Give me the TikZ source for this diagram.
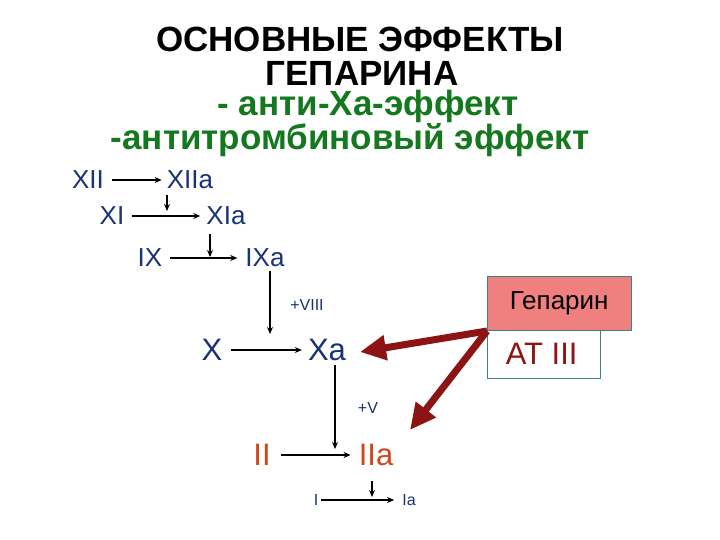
\documentclass[tikz,border=0pt]{standalone}
\usepackage{fontspec}
\setmainfont{Liberation Sans}
\usetikzlibrary{arrows.meta}
\definecolor{tgreen}{RGB}{20,120,30}
\definecolor{cblue}{RGB}{25,50,120}
\definecolor{corange}{RGB}{210,70,30}
\definecolor{dred}{RGB}{140,20,20}
\definecolor{salmon}{RGB}{240,128,128}
\definecolor{teal}{RGB}{60,130,130}
\tikzset{
  fz/.style={font=\fontsize{#1}{#1}\selectfont, inner sep=0pt},
  ttl/.style={font=\bfseries\fontsize{35}{35}\selectfont, inner sep=0pt},
  cas/.style={fz=26, text=cblue},
  casbig/.style={fz=31, text=cblue},
  small/.style={fz=16, text=cblue},
  ar/.style={-{Stealth[length=7pt,width=6pt]}, line width=1.3pt},
  big/.style={-{Triangle[length=26pt,width=24pt]}, line width=7pt, dred},
}
\begin{document}
\begin{tikzpicture}[x=1pt,y=-1pt]
\useasboundingbox (0,0) rectangle (720,540);
\node[ttl] (t1) at (360,39) {ОСНОВНЫЕ ЭФФЕКТЫ};
\node[ttl] (t2) at (362,73) {ГЕПАРИНА};
\node[ttl, text=tgreen] (t3) at (368,106) {- анти-Ха-эффект};
\node[ttl, text=tgreen] (t4) at (350,140) {-антитромбиновый эффект};

\node[cas] (xii) at (88,180) {XII};
\node[cas] (xiia) at (190,180) {XIIa};
\node[cas] (xi) at (112,216) {XI};
\node[cas] (xia) at (226,216) {XIa};
\node[cas] (ix) at (150,258) {IX};
\node[cas] (ixa) at (265,258) {IXa};
\node[small] (viii) at (307,305) {+VIII};
\node[casbig] (x) at (212,350) {X};
\node[casbig] (xa) at (327,350) {Xa};
\node[small] (v) at (368,408) {+V};
\node[casbig, text=corange] (ii) at (262,455) {II};
\node[casbig, text=corange] (iia) at (376,455) {IIa};
\node[small] (i) at (316,500) {I};
\node[small] (ia) at (409,500) {Ia};

\coordinate (a1) at (167,195); \coordinate (a1e) at (167,211);
\coordinate (a2) at (210,234); \coordinate (a2e) at (210,257);
\coordinate (a3) at (270,271); \coordinate (a3e) at (270,334);
\coordinate (a4) at (335,365); \coordinate (a4e) at (335,449);
\coordinate (a5) at (372,481); \coordinate (a5e) at (372,497);

\draw[ar] ([xshift=8pt]xii.east) -- ([xshift=-5pt]xiia.west);
\draw[ar] ([xshift=8pt]xi.east) -- ([xshift=-6pt]xia.west);
\draw[ar] ([xshift=8pt]ix.east) -- ([xshift=-8pt]ixa.west);
\draw[ar] ([xshift=8pt]x.east) -- ([xshift=-6pt]xa.west);
\draw[ar] ([xshift=10pt]ii.east) -- ([xshift=-8pt]iia.west);
\draw[ar] ([xshift=3pt]i.east) -- ([xshift=-8pt]ia.west);
\draw[ar] (a1) -- (a1e);
\draw[ar] (a2) -- (a2e);
\draw[ar] (a3) -- (a3e);
\draw[ar] (a4) -- (a4e);
\draw[ar] (a5) -- (a5e);

\node[draw=teal, fill=salmon, minimum width=144pt, minimum height=54pt, anchor=north west, inner sep=0pt] (hep) at (487,276) {};
\node[fz=26] at (hep.center) {Гепарин};
\node[draw=teal, fill=white, minimum width=113pt, minimum height=48pt, anchor=north west, inner sep=0pt] (at) at (487,330) {};
\node[fz=31, text=dred] at ([xshift=-2pt]at.center) {AT III};

\coordinate (src) at (487,331);
\draw[big] (src) -- (360,352);
\draw[big] (src) -- (410,430);
\end{tikzpicture}
\end{document}
